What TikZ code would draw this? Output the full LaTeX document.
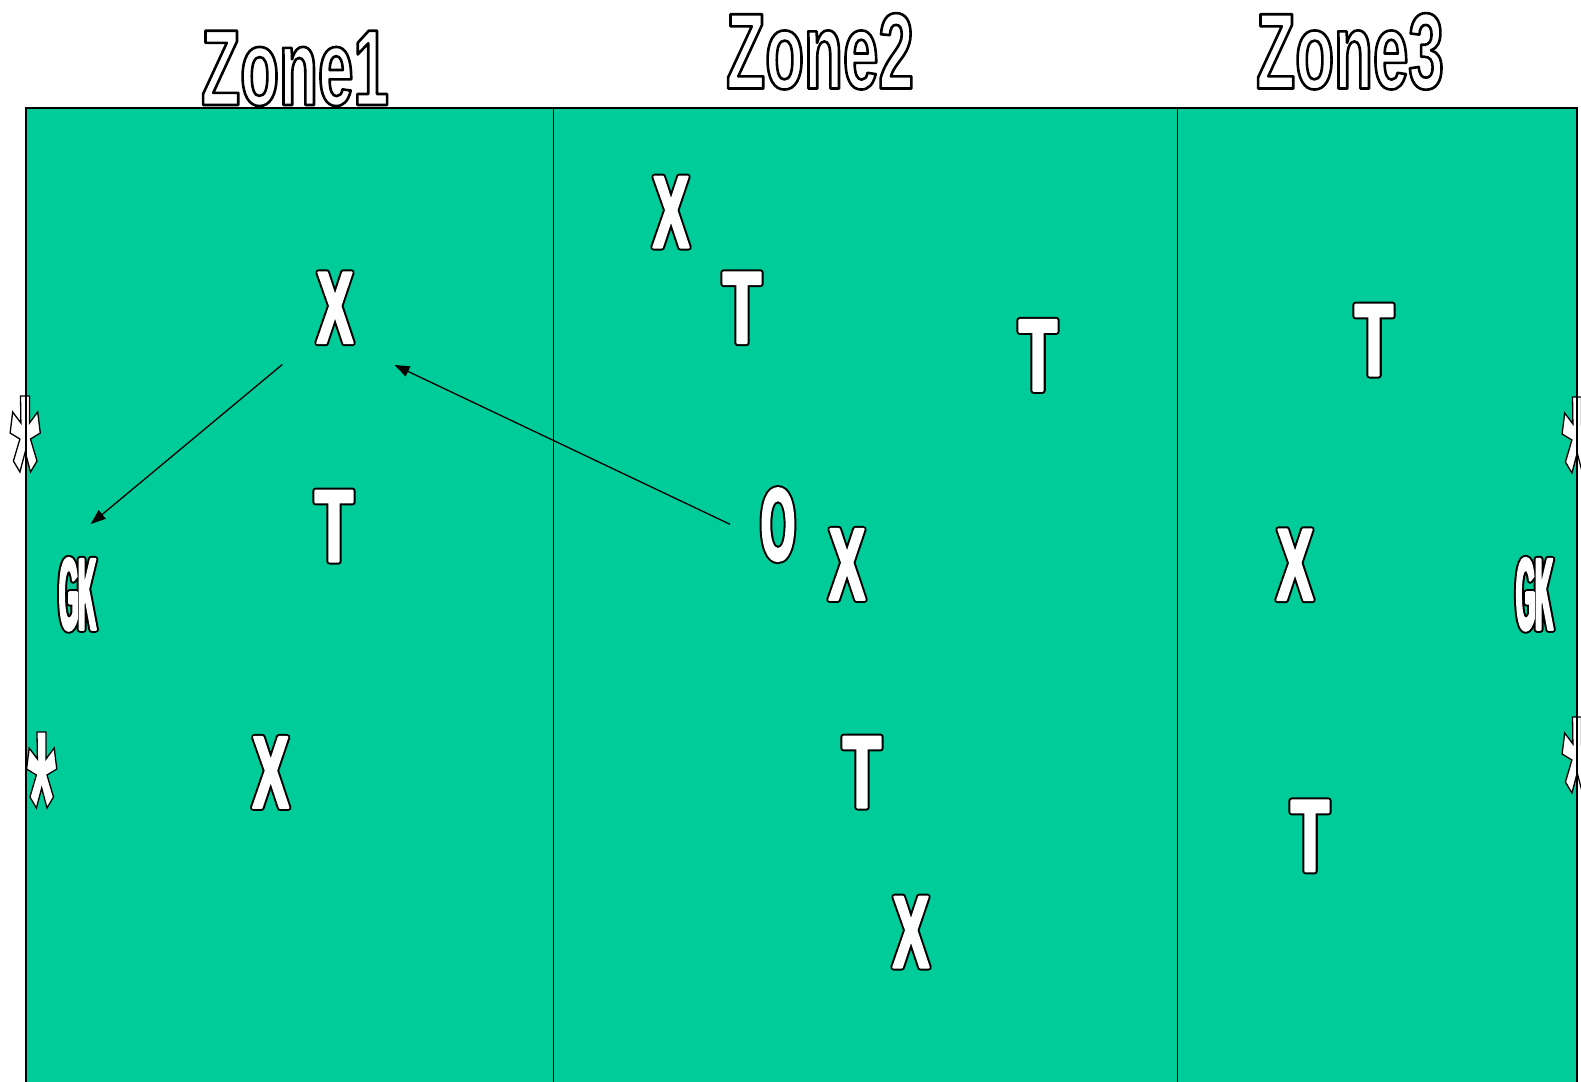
\documentclass[tikz,border=0pt]{standalone}
\usepackage{fontspec}
\setmainfont{Liberation Sans}
\usetikzlibrary{arrows.meta}
\definecolor{field}{RGB}{0,204,153}
% condensed faces (horizontal stretch of Liberation Sans Bold)
\newfontface\fontX{Liberation Sans Bold}[FakeStretch=0.527]
\newfontface\fontT{Liberation Sans Bold}[FakeStretch=0.612]
\newfontface\fontO{Liberation Sans Bold}[FakeStretch=0.427]
\newfontface\fontGK{Liberation Sans Bold}[FakeStretch=0.239]
\newfontface\fontZone{Liberation Sans Bold}[FakeStretch=0.59]
% outlined text via PDF text render mode: a black stroked pass, then a white pass on top
\newcommand{\olt}[1]{%
  \rlap{\special{pdf:literal direct 2 Tr 0 0 0 RG 0 0 0 rg 1 j 6.4 w}#1}%
  \special{pdf:literal direct 2 Tr 1 1 1 RG 1 1 1 rg 1 j 2.4 w}#1%
  \special{pdf:literal direct 0 Tr 0 j 0 0 0 RG 0 0 0 rg}}
% outlined title: one pass, white fill with black stroke
\newcommand{\olz}[1]{%
  \special{pdf:literal direct 2 Tr 0 0 0 RG 1 1 1 rg 1 j 2.6 w}#1%
  \special{pdf:literal direct 0 Tr 0 j 0 0 0 RG 0 0 0 rg}}
\tikzset{
  letterX/.style={inner sep=0pt, anchor=base, font=\fontX\fontsize{102.5}{102.5}\selectfont},
  letterT/.style={inner sep=0pt, anchor=base, font=\fontT\fontsize{102.5}{102.5}\selectfont},
  letterO/.style={inner sep=0pt, anchor=base, font=\fontO\fontsize{102.5}{102.5}\selectfont},
  letterGK/.style={inner sep=0pt, anchor=base, font=\fontGK\fontsize{102.5}{102.5}\selectfont},
  zonelabel/.style={inner sep=0pt, anchor=base, font=\fontZone\fontsize{108}{108}\selectfont},
  pass/.style={line width=1.3pt, -{Triangle[length=15pt,width=11pt]}},
  astershape/.style={fill=white, draw=black, line width=1.3pt, line join=miter},
}
\newcommand{\asterisk}[2]{%
  \draw[astershape] (#1,#2) ++(-4.5,0) -- ++(9,0) -- ++(0,27) -- ++(8.2,-11) -- ++(2.6,21)
    -- ++(-9.8,6) -- ++(6.5,22) -- ++(-6.5,11) -- ++(-5.3,-20) -- ++(-5.3,20)
    -- ++(-6.5,-11) -- ++(6.5,-22) -- ++(-9.8,-6) -- ++(2.6,-21) -- ++(8.2,11) -- cycle;}
\begin{document}
\begin{tikzpicture}[x=1pt,y=-1pt]
\useasboundingbox[fill=white] (0,0) rectangle (1581,1081);
% field
\fill[field] (26,108) rectangle (1577,1095);
\draw[line width=1.3pt] (553.5,108) -- (553.5,1095);
\draw[line width=1.3pt] (1177.5,108) -- (1177.5,1095);
% passes
\coordinate (p1s) at (282.3,364.5);
\coordinate (p1e) at (90.7,524);
\coordinate (p2s) at (730,524.3);
\coordinate (p2e) at (394.5,365);
\draw[pass] (p1s) -- (p1e);
\draw[pass] (p2s) -- (p2e);
% goal posts
\asterisk{25}{396}
\asterisk{41.5}{732}
\asterisk{1577}{397}
\asterisk{1577}{717}
% field border
\draw[line width=1.3pt] (26,1095) -- (26,108) -- (1577,108) -- (1577,1095);
% zone titles
\node[zonelabel] (z1) at (295,105) {\olz{Zone1}};
\node[zonelabel] (z2) at (820,88.5) {\olz{Zone2}};
\node[zonelabel] (z3) at (1350,88.5) {\olz{Zone3}};
% zone 1 players
\node[letterX] (x1) at (335,343) {\olt{X}};
\node[letterT] (t1) at (334,561.3) {\olt{T}};
\node[letterX] (x2) at (270.7,807.7) {\olt{X}};
\node[letterGK] (gk1) at (77.6,629.6) {\olt{GK}};
% zone 2 players
\node[letterX] (x3) at (671,247.3) {\olt{X}};
\node[letterT] (t2) at (742,343) {\olt{T}};
\node[letterT] (t3) at (1038,390.7) {\olt{T}};
\node[letterO] (o1) at (778,559.9) {\olt{O}};
\node[letterX] (x4) at (847,599.7) {\olt{X}};
\node[letterT] (t4) at (862,807.3) {\olt{T}};
\node[letterX] (x5) at (911,967.3) {\olt{X}};
% zone 3 players
\node[letterT] (t5) at (1374,375.3) {\olt{T}};
\node[letterX] (x6) at (1295,600) {\olt{X}};
\node[letterT] (t6) at (1310,871.2) {\olt{T}};
\node[letterGK] (gk2) at (1534.5,629.6) {\olt{GK}};
\end{tikzpicture}
\end{document}
